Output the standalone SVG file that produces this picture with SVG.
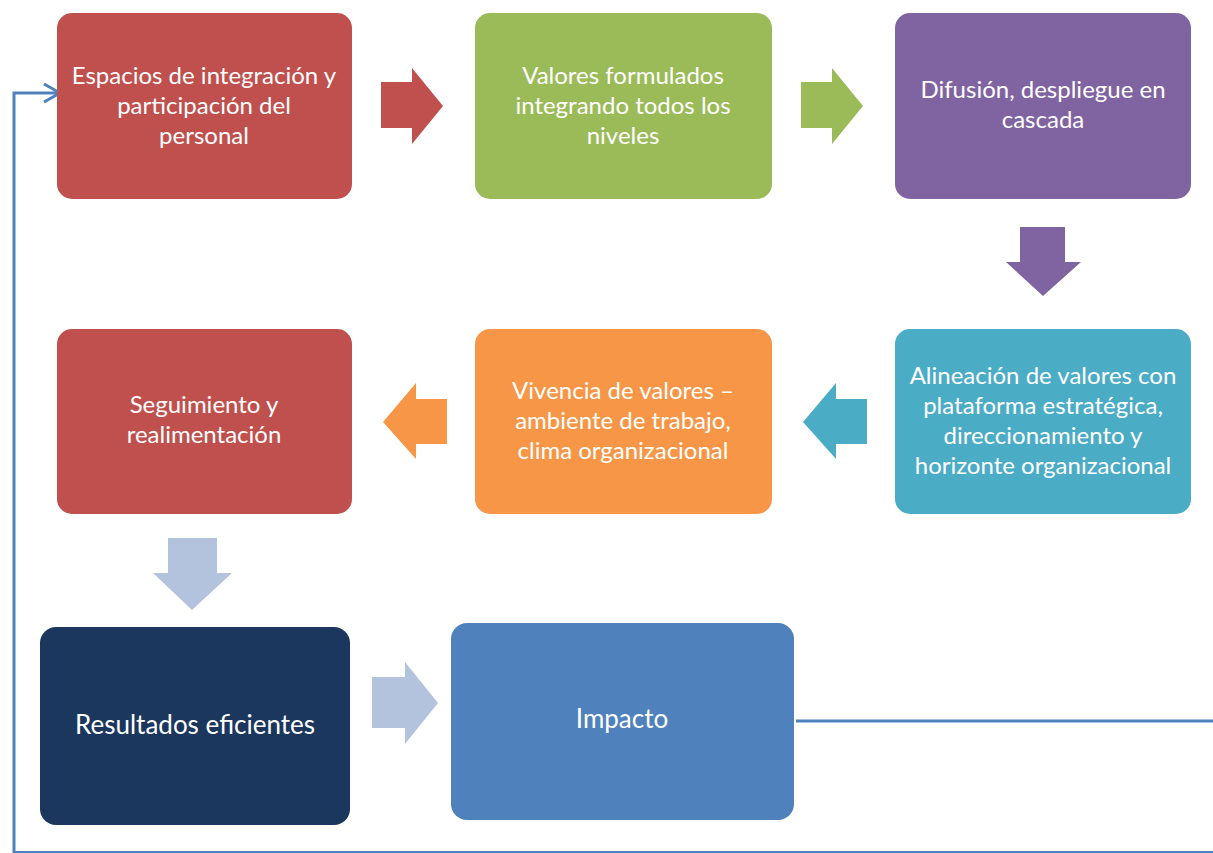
<svg xmlns="http://www.w3.org/2000/svg" width="1213" height="853" viewBox="0 0 1213 853">
<defs>
<style>
.box{stroke:none}
.t{font-family:Lato,"Open Sans","DejaVu Sans",sans-serif;font-size:24px;fill:#ffffff;text-anchor:middle}
.big{font-size:26px}
.conn{fill:none;stroke:#4f81bd;stroke-width:3;stroke-linejoin:miter}
</style>
<marker id="open" viewBox="0 0 20 20" refX="18" refY="10" markerWidth="20" markerHeight="20" markerUnits="userSpaceOnUse" orient="auto">
<path d="M2,1 L18,10 L2,19" fill="none" stroke="#4f81bd" stroke-width="3"/>
</marker>
</defs>
<rect width="1213" height="853" fill="#ffffff"/>

<g id="connectors">
<path class="conn" d="M796,721 H1216 V852.5 H14 V93 H60" marker-end="url(#open)"/>
<path id="a1" d="M381,82 H412 V68 L443,106 L412,144 V128 H381 Z" fill="#c0504d"/>
<path id="a2" d="M801,82 H832 V68 L863,106 L832,144 V128 H801 Z" fill="#9bbb59"/>
<path id="a3" d="M1020,227 H1065 V262 H1081 L1043,296 L1006,262 H1020 Z" fill="#8064a2"/>
<path id="a4" d="M867,399 H836 V383 L803,422 L836,459 V444 H867 Z" fill="#4bacc6"/>
<path id="a5" d="M447,399 H416 V383 L383,422 L416,459 V444 H447 Z" fill="#f79646"/>
<path id="a6" d="M168,538 H217 V573 H232 L192,610 L153,573 H168 Z" fill="#b3c3dd"/>
<path id="a7" d="M372,677 H405 V662 L438,703 L405,744 V728 H372 Z" fill="#b3c3dd"/>
</g>

<g id="n1">
<rect class="box" x="57" y="13" width="295" height="186" rx="15" fill="#c0504d"/>
<text class="t" x="204" y="84">Espacios de integración y</text>
<text class="t" x="204" y="114">participación del</text>
<text class="t" x="204" y="144">personal</text>
</g>
<g id="n2">
<rect class="box" x="475" y="13" width="297" height="186" rx="15" fill="#9bbb59"/>
<text class="t" x="623" y="84">Valores formulados</text>
<text class="t" x="623" y="114">integrando todos los</text>
<text class="t" x="623" y="144">niveles</text>
</g>
<g id="n3">
<rect class="box" x="895" y="13" width="296" height="186" rx="15" fill="#8064a2"/>
<text class="t" x="1043" y="98">Difusión, despliegue en</text>
<text class="t" x="1043" y="128">cascada</text>
</g>
<g id="n4">
<rect class="box" x="895" y="329" width="296" height="185" rx="15" fill="#4bacc6"/>
<text class="t" x="1043" y="384">Alineación de valores con</text>
<text class="t" x="1043" y="414">plataforma estratégica,</text>
<text class="t" x="1043" y="444">direccionamiento y</text>
<text class="t" x="1043" y="474">horizonte organizacional</text>
</g>
<g id="n5">
<rect class="box" x="475" y="329" width="297" height="185" rx="15" fill="#f79646"/>
<text class="t" x="623" y="399">Vivencia de valores –</text>
<text class="t" x="623" y="429">ambiente de trabajo,</text>
<text class="t" x="623" y="459">clima organizacional</text>
</g>
<g id="n6">
<rect class="box" x="57" y="329" width="295" height="185" rx="15" fill="#c0504d"/>
<text class="t" x="204" y="413">Seguimiento y</text>
<text class="t" x="204" y="443">realimentación</text>
</g>
<g id="n7">
<rect class="box" x="40" y="627" width="310" height="198" rx="16" fill="#1b375e"/>
<text class="t big" x="195" y="734">Resultados eficientes</text>
</g>
<g id="n8">
<rect class="box" x="451" y="623" width="343" height="197" rx="16" fill="#4f81bd"/>
<text class="t big" x="622" y="728">Impacto</text>
</g>
</svg>
